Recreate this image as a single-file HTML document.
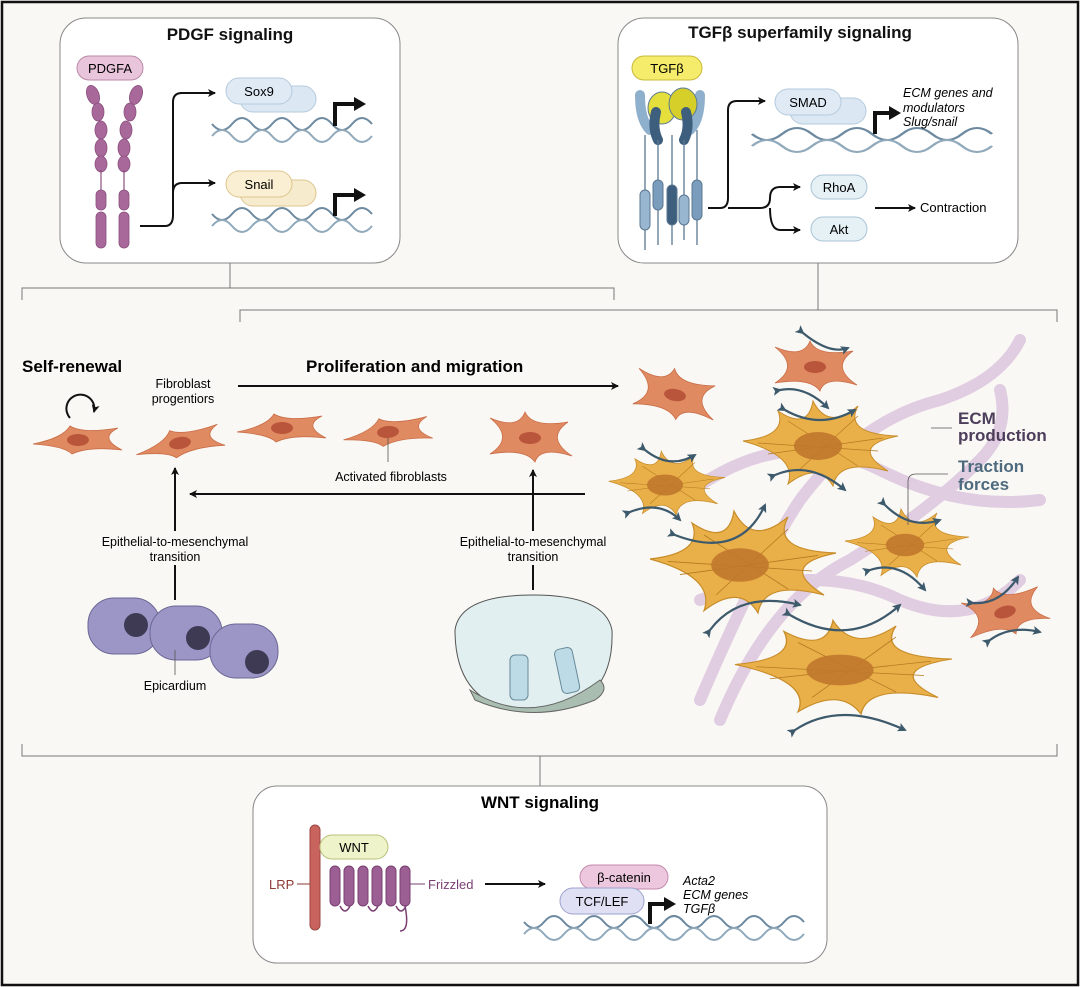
<!DOCTYPE html>
<html><head><meta charset="utf-8"><style>
body{margin:0;background:#fff}
svg{display:block}
text{font-family:"Liberation Sans",sans-serif}
</style></head><body>
<svg width="1080" height="987" viewBox="0 0 1080 987" xmlns="http://www.w3.org/2000/svg">
<defs>
<marker id="ah" markerWidth="8" markerHeight="8" refX="7" refY="4" orient="auto" markerUnits="userSpaceOnUse"><path d="M0,0 L8,4 L0,8 L2,4z" fill="#111"/></marker>
<marker id="bh" markerWidth="9" markerHeight="9" refX="7" refY="4.5" orient="auto" markerUnits="userSpaceOnUse"><path d="M0,0 L9,4.5 L0,9 L2,4.5z" fill="#3d5a6c"/></marker>
<g id="oc"><path d="M-45,4 Q-15,-2 -8,-14 Q5,-6 40,-12 Q20,-2 44,10 Q10,6 -6,14 Q-14,6 -45,4Z" fill="#e08a62" stroke="#c96e48" stroke-width="0.8"/><ellipse cx="0" cy="0" rx="11" ry="6" fill="#b9553a"/></g>
<g id="os"><path d="M-40,-20 Q-12,-8 -5,-26 Q2,-10 38,-16 Q15,0 42,18 Q10,8 5,24 Q-5,10 -40,16 Q-15,0 -40,-20Z" fill="#e08a62" stroke="#c96e48" stroke-width="0.8"/><ellipse cx="0" cy="0" rx="11" ry="6" fill="#b9553a"/></g>
<g id="ys"><path d="M-75,-5 Q-30,-10 -40,-35 Q-10,-15 -5,-45 Q10,-15 40,-40 Q25,-12 80,-10 Q30,0 70,25 Q20,12 15,40 Q0,15 -30,38 Q-20,10 -75,-5Z" fill="#e9b04a" stroke="#c88d2a" stroke-width="1"/><path d="M-60,-3 L60,5 M-30,-25 L40,20 M-20,25 L40,-30 M-50,8 L65,-8" stroke="#b57a20" stroke-width="0.7"/><ellipse cx="0" cy="0" rx="24" ry="14" fill="#c0782c" opacity="0.9"/></g>
<g id="dna"><path d="M0,0 q10,12 20,0 t20,0 t20,0 t20,0 t20,0 t20,0 t20,0 t20,0" fill="none" stroke="#6d8aa0" stroke-width="2"/><path d="M0,12 q10,-12 20,0 t20,0 t20,0 t20,0 t20,0 t20,0 t20,0 t20,0" fill="none" stroke="#90a9bb" stroke-width="2"/></g>
</defs>
<rect x="0" y="0" width="1080" height="987" fill="#faf8f4"/>
<rect x="2" y="2" width="1076" height="983" fill="none" stroke="#111" stroke-width="2.5"/>

<!-- PDGF box -->
<rect x="60" y="18" width="340" height="245" rx="26" fill="#fff" stroke="#888" stroke-width="1"/>
<text x="230" y="40" font-size="17" font-weight="bold" text-anchor="middle" fill="#111">PDGF signaling</text>
<rect x="77" y="56" width="66" height="24" rx="12" fill="#e9c5dc" stroke="#b98aa7"/>
<text x="110" y="73" font-size="13" text-anchor="middle">PDGFA</text>
<g fill="#a8699a" stroke="#8a4f7e" stroke-width="0.8">
<ellipse cx="93" cy="95" rx="6" ry="10" transform="rotate(-20 93 95)"/><ellipse cx="98" cy="112" rx="6" ry="9"/><ellipse cx="101" cy="130" rx="6" ry="9"/><ellipse cx="101" cy="148" rx="6" ry="9"/><ellipse cx="101" cy="164" rx="6" ry="8"/>
<rect x="96" y="190" width="10" height="20" rx="5"/><rect x="96" y="212" width="10" height="36" rx="5"/>
<ellipse cx="136" cy="95" rx="6" ry="10" transform="rotate(20 136 95)"/><ellipse cx="130" cy="112" rx="6" ry="9"/><ellipse cx="126" cy="130" rx="6" ry="9"/><ellipse cx="124" cy="148" rx="6" ry="9"/><ellipse cx="124" cy="164" rx="6" ry="8"/>
<rect x="119" y="190" width="10" height="20" rx="5"/><rect x="119" y="212" width="10" height="36" rx="5"/>
</g>
<path d="M101,170 V190 M124,170 V190" stroke="#8a4f7e" stroke-width="1.2"/>
<g stroke="#111" stroke-width="2" fill="none">
<path d="M140,226 H165 Q173,226 173,215 V102 Q173,93 182,93 H215" marker-end="url(#ah)"/>
<path d="M173,193 Q173,183 182,183 H215" marker-end="url(#ah)"/>
</g>
<rect x="240" y="86" width="76" height="26" rx="13" fill="#dbe8f4" stroke="#b4cadd"/>
<rect x="226" y="78" width="66" height="26" rx="13" fill="#dfeaf5" stroke="#b4cadd"/>
<text x="259" y="96" font-size="13" text-anchor="middle">Sox9</text>
<use href="#dna" x="212" y="124"/>
<path d="M335,126 V104 H355" stroke="#111" stroke-width="4" fill="none"/><path d="M354,97 L366,104 L354,111z" fill="#111"/>
<rect x="240" y="180" width="76" height="26" rx="13" fill="#f7ebcd" stroke="#ddc58f"/>
<rect x="226" y="171" width="66" height="26" rx="13" fill="#faefd3" stroke="#ddc58f"/>
<text x="259" y="189" font-size="13" text-anchor="middle">Snail</text>
<use href="#dna" x="212" y="214"/>
<path d="M335,216 V195 H355" stroke="#111" stroke-width="4" fill="none"/><path d="M354,188 L366,195 L354,202z" fill="#111"/>

<!-- TGF box -->
<rect x="618" y="18" width="400" height="245" rx="26" fill="#fff" stroke="#888" stroke-width="1"/>
<text x="800" y="38" font-size="17" font-weight="bold" text-anchor="middle" fill="#111">TGFβ superfamily signaling</text>
<rect x="632" y="56" width="70" height="24" rx="12" fill="#f4ec6a" stroke="#c9b93a"/>
<text x="667" y="73" font-size="13" text-anchor="middle">TGFβ</text>
<g stroke="#5a7892" stroke-width="1">
<path d="M640,95 Q640,120 650,130" stroke="#8fb0cc" stroke-width="10" fill="none" stroke-linecap="round"/>
<path d="M700,95 Q700,120 690,130" stroke="#8fb0cc" stroke-width="10" fill="none" stroke-linecap="round"/>
<ellipse cx="662" cy="108" rx="14" ry="16" fill="#e4df3c"/><ellipse cx="683" cy="104" rx="14" ry="16" fill="#d6cf2a"/>
<path d="M656,112 Q652,128 658,140" stroke="#3e5e7e" stroke-width="10" fill="none" stroke-linecap="round"/>
<path d="M686,112 Q690,128 684,140" stroke="#3e5e7e" stroke-width="10" fill="none" stroke-linecap="round"/>
<path d="M645,135 V250 M658,140 V245 M672,135 V245 M684,140 V240 M697,130 V245" stroke="#5a7892" stroke-width="1.3"/>
<rect x="640" y="190" width="10" height="40" rx="5" fill="#98b6d0"/><rect x="653" y="180" width="10" height="30" rx="5" fill="#7b9dbd"/><rect x="667" y="185" width="10" height="40" rx="5" fill="#3e5e7e"/><rect x="679" y="195" width="10" height="30" rx="5" fill="#98b6d0"/><rect x="692" y="180" width="10" height="40" rx="5" fill="#7b9dbd"/>
</g>
<g stroke="#111" stroke-width="2" fill="none">
<path d="M708,208 H720 Q728,208 728,198 V110 Q728,101 737,101 H765" marker-end="url(#ah)"/>
<path d="M728,208 H760 Q770,208 770,198 Q770,187 780,187 H800" marker-end="url(#ah)"/>
<path d="M770,208 Q770,230 780,230 H800" marker-end="url(#ah)"/>
<path d="M875,208 H915" marker-end="url(#ah)"/>
</g>
<rect x="790" y="98" width="76" height="26" rx="13" fill="#dbe8f4" stroke="#b4cadd"/>
<rect x="775" y="89" width="66" height="26" rx="13" fill="#dfeaf5" stroke="#b4cadd"/>
<text x="808" y="107" font-size="13" text-anchor="middle">SMAD</text>
<use href="#dna" transform="translate(752,134) scale(1.5,1)"/>
<path d="M875,134 V113 H890" stroke="#111" stroke-width="4" fill="none"/><path d="M889,106 L901,113 L889,120z" fill="#111"/>
<text x="903" y="97" font-size="12.5" font-style="italic">ECM genes and</text>
<text x="903" y="112" font-size="12.5" font-style="italic">modulators</text>
<text x="903" y="126" font-size="12.5" font-style="italic">Slug/snail</text>
<rect x="811" y="175" width="56" height="24" rx="12" fill="#e6f1f6" stroke="#a9c4d4"/>
<text x="839" y="192" font-size="13" text-anchor="middle">RhoA</text>
<rect x="811" y="217" width="56" height="24" rx="12" fill="#e6f1f6" stroke="#a9c4d4"/>
<text x="839" y="234" font-size="13" text-anchor="middle">Akt</text>
<text x="920" y="212" font-size="13">Contraction</text>

<!-- brackets -->
<g stroke="#777" stroke-width="1" fill="none">
<path d="M230,263 V288 M22,300 V288 H614 V300"/>
<path d="M818,263 V310 M240,322 V310 H1057 V322"/>
<path d="M22,744 V756 H1057 V744 M540,756 V786"/>
</g>

<!-- ECM fibers -->
<g fill="none" stroke="#c8a3cf" stroke-width="12" opacity="0.5" stroke-linecap="round">
<path d="M700,700 Q760,560 800,500 Q860,420 940,400 Q1000,380 1020,340"/>
<path d="M720,720 Q770,600 850,560 Q930,510 980,460 Q1010,430 1000,390"/>
<path d="M680,500 Q780,420 880,470 Q960,510 1040,500"/>
<path d="M700,600 Q820,560 900,600 Q970,630 1020,580"/>
</g>

<!-- main section -->
<text x="22" y="372" font-size="17" font-weight="bold">Self-renewal</text>
<text x="306" y="372" font-size="17" font-weight="bold">Proliferation and migration</text>
<path d="M238,386 H618" stroke="#111" stroke-width="2" marker-end="url(#ah)"/>
<text x="183" y="388" font-size="12.5" text-anchor="middle">Fibroblast</text>
<text x="183" y="403" font-size="12.5" text-anchor="middle">progentiors</text>
<path d="M70,418 A14,14 0 1 1 94,412" fill="none" stroke="#111" stroke-width="2" marker-end="url(#ah)"/>
<use href="#oc" transform="translate(78,440)"/>
<use href="#oc" transform="translate(180,443) rotate(-10)"/>
<use href="#oc" transform="translate(282,428)"/>
<use href="#oc" transform="translate(388,432) rotate(-5)"/>
<path d="M388,438 V462" stroke="#555" stroke-width="0.8"/>
<text x="391" y="481" font-size="12.5" text-anchor="middle">Activated fibroblasts</text>
<use href="#os" transform="translate(530,438)"/>
<use href="#os" transform="translate(675,395) rotate(10)"/>
<use href="#os" transform="translate(815,367)"/>
<use href="#os" transform="translate(1005,612) rotate(-15)"/>
<use href="#ys" transform="translate(818,446)"/>
<use href="#ys" transform="translate(665,485) scale(0.75)"/>
<use href="#ys" transform="translate(740,565) scale(1.2)"/>
<use href="#ys" transform="translate(905,545) scale(0.8)"/>
<use href="#ys" transform="translate(840,670) scale(1.4,1.1)"/>
<g fill="none" stroke="#3d5a6c" stroke-width="2.2">
<path d="M803,333 Q830,355 848,348" marker-end="url(#bh)" marker-start="url(#bh)"/>
<path d="M780,390 Q805,385 828,408" marker-end="url(#bh)" marker-start="url(#bh)"/>
<path d="M785,410 Q820,430 855,410" marker-end="url(#bh)" marker-start="url(#bh)"/>
<path d="M645,450 Q670,470 695,455" marker-end="url(#bh)" marker-start="url(#bh)"/>
<path d="M630,512 Q660,500 680,520" marker-end="url(#bh)" marker-start="url(#bh)"/>
<path d="M775,475 Q810,460 845,490" marker-end="url(#bh)" marker-start="url(#bh)"/>
<path d="M675,535 Q740,560 765,505" marker-end="url(#bh)" marker-start="url(#bh)"/>
<path d="M885,505 Q910,530 940,520" marker-end="url(#bh)" marker-start="url(#bh)"/>
<path d="M870,570 Q900,560 925,590" marker-end="url(#bh)" marker-start="url(#bh)"/>
<path d="M710,630 Q740,590 800,605" marker-end="url(#bh)" marker-start="url(#bh)"/>
<path d="M790,615 Q850,650 900,605" marker-end="url(#bh)" marker-start="url(#bh)"/>
<path d="M973,603 Q1000,605 1018,577" marker-end="url(#bh)" marker-start="url(#bh)"/>
<path d="M990,640 Q1010,625 1040,632" marker-end="url(#bh)" marker-start="url(#bh)"/>
<path d="M795,730 Q840,700 905,730" marker-end="url(#bh)" marker-start="url(#bh)"/>
</g>
<text x="958" y="424" font-size="17" font-weight="bold" fill="#4d3e5c">ECM</text>
<text x="958" y="441" font-size="17" font-weight="bold" fill="#4d3e5c">production</text>
<path d="M931,428 H952" stroke="#555" stroke-width="0.8"/>
<text x="958" y="472" font-size="17" font-weight="bold" fill="#4e6a7e">Traction</text>
<text x="958" y="490" font-size="17" font-weight="bold" fill="#4e6a7e">forces</text>
<path d="M948,474 H916 Q908,474 908,482 V525" stroke="#555" stroke-width="0.8" fill="none"/>

<!-- EMT arrows -->
<g stroke="#111" stroke-width="2" fill="none">
<path d="M585,494 H190" marker-end="url(#ah)"/>
<path d="M175,600 V468" marker-end="url(#ah)"/>
<path d="M533,590 V470" marker-end="url(#ah)"/>
</g>
<rect x="60" y="531" width="230" height="34" fill="#faf8f4"/>
<text x="175" y="546" font-size="12.5" text-anchor="middle">Epithelial-to-mesenchymal</text>
<text x="175" y="561" font-size="12.5" text-anchor="middle">transition</text>
<rect x="440" y="531" width="186" height="34" fill="#faf8f4"/>
<text x="533" y="546" font-size="12.5" text-anchor="middle">Epithelial-to-mesenchymal</text>
<text x="533" y="561" font-size="12.5" text-anchor="middle">transition</text>

<!-- epicardium -->
<g stroke="#6b6796" stroke-width="1">
<rect x="88" y="598" width="72" height="56" rx="26" fill="#9b96c6"/>
<rect x="150" y="606" width="72" height="54" rx="26" fill="#9b96c6"/>
<rect x="210" y="624" width="68" height="54" rx="26" fill="#9b96c6"/>
</g>
<circle cx="136" cy="625" r="12" fill="#3e3a54"/><circle cx="198" cy="638" r="12" fill="#3e3a54"/><circle cx="257" cy="662" r="12" fill="#3e3a54"/>
<path d="M175,650 V675" stroke="#555" stroke-width="0.8"/>
<text x="175" y="690" font-size="12.5" text-anchor="middle">Epicardium</text>

<!-- vesicle -->
<path d="M455,630 Q460,595 533,595 Q605,595 612,630 Q615,710 533,712 Q455,710 455,630Z" fill="#e1eff0" stroke="#555" stroke-width="1"/>
<path d="M470,690 Q533,730 600,680 Q610,690 595,700 Q533,725 475,700Z" fill="#a9beb0" stroke="#666"/>
<rect x="510" y="655" width="18" height="45" rx="5" fill="#bcdbe6" stroke="#6a8a9a"/>
<rect x="558" y="648" width="18" height="45" rx="5" fill="#bcdbe6" stroke="#6a8a9a" transform="rotate(-12 567 670)"/>

<!-- WNT box -->
<rect x="253" y="786" width="574" height="177" rx="24" fill="#fff" stroke="#888" stroke-width="1"/>
<text x="540" y="808" font-size="17" font-weight="bold" text-anchor="middle">WNT signaling</text>
<rect x="310" y="825" width="10" height="105" rx="5" fill="#c9635e" stroke="#9e4640"/>
<text x="269" y="889" font-size="13" fill="#8e3a36">LRP</text>
<path d="M297,884 H310" stroke="#8e3a36"/>
<rect x="320" y="835" width="68" height="24" rx="12" fill="#eef3c9" stroke="#b9c27a"/>
<text x="354" y="852" font-size="13" text-anchor="middle">WNT</text>
<g fill="#9c5f93" stroke="#7a3f72">
<rect x="330" y="866" width="10" height="40" rx="5"/><rect x="344" y="866" width="10" height="40" rx="5"/><rect x="358" y="866" width="10" height="40" rx="5"/><rect x="372" y="866" width="10" height="40" rx="5"/><rect x="386" y="866" width="10" height="40" rx="5"/><rect x="400" y="866" width="10" height="40" rx="5"/>
</g>
<path d="M340,906 q5,10 10,0 M368,906 q5,10 10,0 M396,906 q5,10 10,0 M405,906 q5,25 -5,25" fill="none" stroke="#7a3f72" stroke-width="1.5"/>
<path d="M410,884 H425" stroke="#7a3f72"/>
<text x="428" y="889" font-size="13" fill="#7a3f72">Frizzled</text>
<path d="M485,884 H545" stroke="#111" stroke-width="2" marker-end="url(#ah)"/>
<rect x="580" y="865" width="88" height="24" rx="12" fill="#ecc7de" stroke="#c58aae"/>
<text x="624" y="882" font-size="13" text-anchor="middle">β-catenin</text>
<rect x="560" y="888" width="84" height="26" rx="13" fill="#dfe0f3" stroke="#9ea3cf"/>
<text x="602" y="906" font-size="13" text-anchor="middle">TCF/LEF</text>
<use href="#dna" x="524" y="922"/><use href="#dna" x="644" y="922"/>
<path d="M650,924 V904 H665" stroke="#111" stroke-width="4" fill="none"/><path d="M664,897 L676,904 L664,911z" fill="#111"/>
<text x="683" y="885" font-size="12.5" font-style="italic">Acta2</text>
<text x="683" y="899" font-size="12.5" font-style="italic">ECM genes</text>
<text x="683" y="913" font-size="12.5" font-style="italic">TGFβ</text>
</svg>
</body></html>
